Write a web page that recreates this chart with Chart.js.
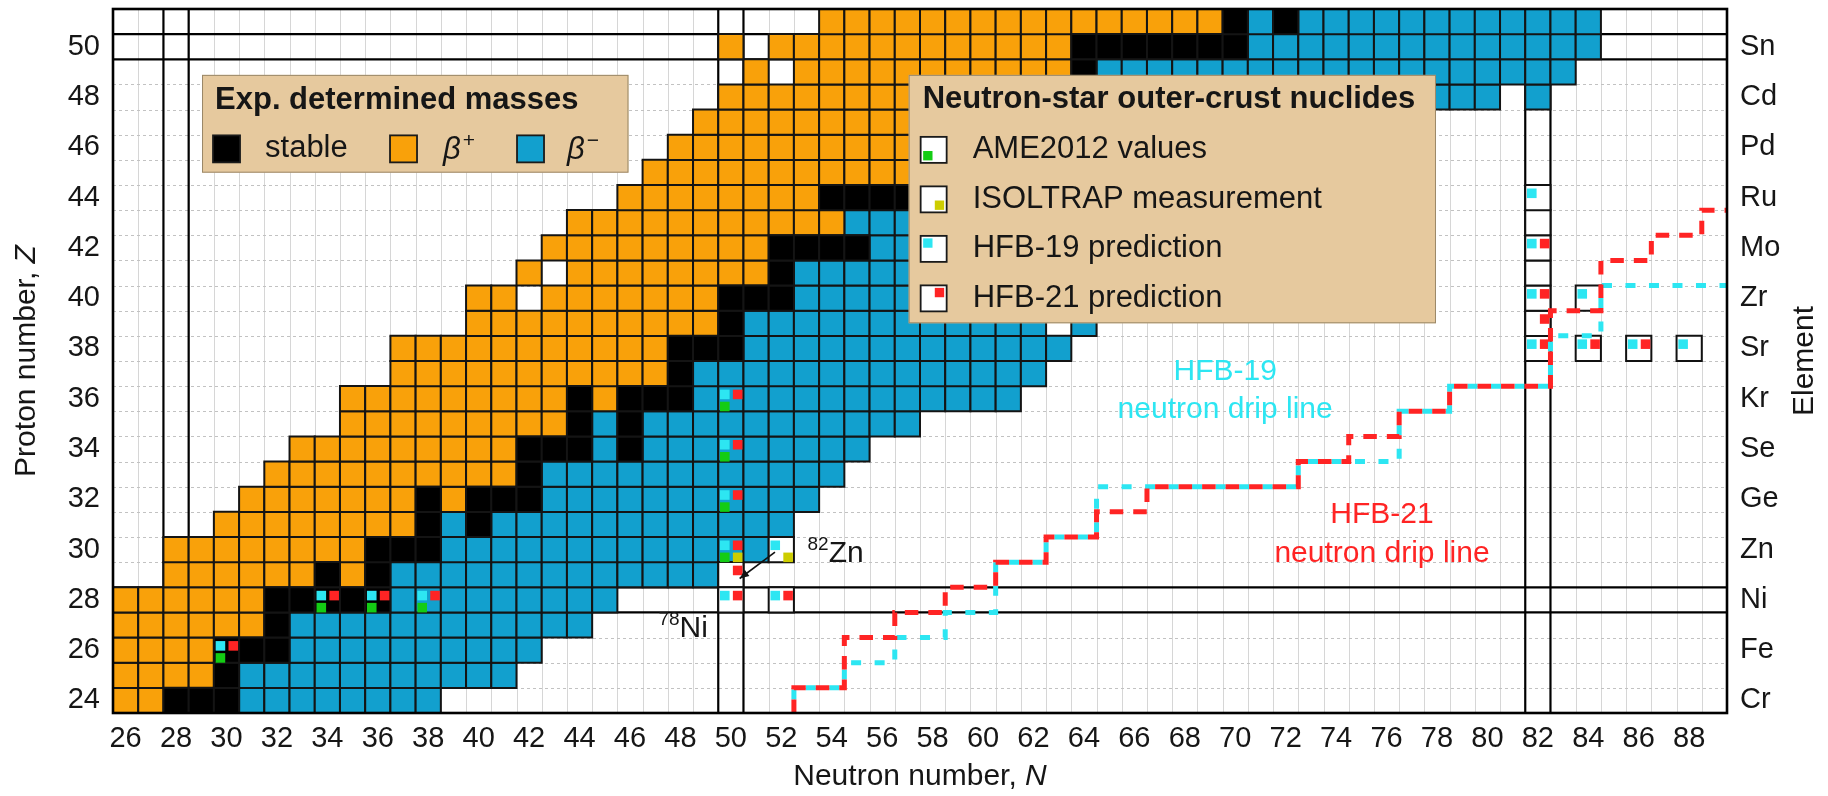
<!DOCTYPE html>
<html>
<head>
<meta charset="utf-8">
<script src="https://cdn.jsdelivr.net/npm/chart.js@4.4.1/dist/chart.umd.min.js"></script>
<style>
  html, body { margin: 0; padding: 0; background: #ffffff; }
  #wrap { width: 1828px; height: 796px; position: relative; }
</style>
</head>
<body>
<div id="wrap"><canvas id="chart"></canvas></div>
<script>
// ---- axis ticks -------------------------------------------------------
const neutronTicks = [26, 28, 30, 32, 34, 36, 38, 40, 42, 44, 46, 48, 50, 52, 54, 56, 58, 60,
                      62, 64, 66, 68, 70, 72, 74, 76, 78, 80, 82, 84, 86, 88];
const protonTicks = [24, 26, 28, 30, 32, 34, 36, 38, 40, 42, 44, 46, 48, 50];
const elementSymbols = ['Cr', 'Fe', 'Ni', 'Zn', 'Ge', 'Se', 'Kr', 'Sr', 'Zr', 'Mo', 'Ru', 'Pd', 'Cd', 'Sn'];

// ---- nuclides with experimentally determined masses: [Z, first N, last N]
const betaPlusRuns = [
  [24, 26, 27], [25, 26, 29], [26, 26, 29], [27, 26, 31], [28, 26, 31],
  [29, 28, 33], [29, 35, 35], [30, 28, 35], [31, 30, 37], [32, 31, 37], [32, 39, 39],
  [33, 32, 41], [34, 33, 41], [35, 35, 43], [36, 35, 43], [36, 45, 45],
  [37, 37, 47], [38, 37, 47], [39, 40, 49], [40, 40, 41], [40, 43, 49],
  [41, 42, 42], [41, 44, 51], [42, 43, 51], [43, 44, 54], [44, 46, 53],
  [45, 47, 57], [46, 48, 57], [47, 49, 59], [48, 50, 57],
  [49, 51, 51], [49, 53, 63], [50, 50, 50], [50, 52, 63], [51, 54, 69]
];
const stableRuns = [
  [24, 28, 30], [25, 30, 30], [26, 30, 32], [27, 32, 32], [28, 32, 36],
  [29, 34, 34], [29, 36, 36], [30, 36, 38], [31, 38, 38], [31, 40, 40],
  [32, 38, 38], [32, 40, 42], [33, 42, 42], [34, 42, 44], [34, 46, 46],
  [35, 44, 44], [35, 46, 46], [36, 44, 44], [36, 46, 48], [37, 48, 48],
  [38, 48, 50], [39, 50, 50], [40, 50, 52], [41, 52, 52], [42, 52, 55],
  [44, 54, 60], [45, 58, 58], [46, 58, 64], [47, 60, 62], [48, 58, 64],
  [49, 64, 64], [50, 64, 70], [51, 70, 70], [51, 72, 72]
];
const betaMinusRuns = [
  [24, 31, 38], [25, 31, 41], [26, 33, 42], [27, 33, 44], [28, 37, 45],
  [29, 37, 49], [30, 39, 51], [31, 39, 39], [31, 41, 52], [32, 43, 53],
  [33, 43, 54], [34, 45, 45], [34, 47, 55], [35, 45, 45], [35, 47, 57],
  [36, 49, 61], [37, 49, 62], [38, 51, 63], [39, 51, 62], [39, 64, 64],
  [40, 53, 66], [41, 53, 67], [42, 56, 69], [43, 55, 70], [44, 61, 73],
  [45, 59, 74], [46, 65, 75], [47, 63, 76], [48, 65, 80], [48, 82, 82],
  [49, 65, 83], [50, 71, 84], [51, 71, 71], [51, 73, 84]
];

// ---- neutron-star outer-crust nuclides: [N, Z] ----------------------------
const crustOpenCells = [
  [50, 29], [50, 28], [52, 30], [52, 28],
  [82, 38], [82, 39], [82, 40], [82, 41], [82, 42], [82, 43], [82, 44],
  [84, 38], [84, 40], [86, 38], [88, 38]
];
const ame2012Nuclides = [[30, 26], [34, 28], [36, 28], [38, 28], [50, 30], [50, 32], [50, 34], [50, 36]];
const isoltrapNuclides = [[50, 30], [52, 30]];
const hfb19Nuclides = [
  [30, 26], [34, 28], [36, 28], [38, 28], [50, 36], [50, 34], [50, 32], [50, 30],
  [50, 28], [52, 30], [52, 28], [82, 44], [82, 42], [82, 40], [82, 38],
  [84, 40], [84, 38], [86, 38], [88, 38]
];
const hfb21Nuclides = [
  [30, 26], [34, 28], [36, 28], [38, 28], [50, 36], [50, 34], [50, 32], [50, 30],
  [50, 29], [50, 28], [52, 28], [82, 42], [82, 40], [82, 39], [82, 38],
  [84, 38], [86, 38]
];

// ---- neutron drip lines: last bound N for Z = 24, 25, ... ------------------
const dripFirstZ = 24;
const hfb19LastBoundN = [52, 54, 56, 58, 60, 60, 62, 64, 64, 72, 76, 76, 78, 82, 82, 84, 84];
const hfb21LastBoundN = [52, 54, 54, 56, 58, 60, 62, 64, 66, 72, 74, 76, 78, 82, 82, 82, 84, 84, 86, 88];

// ---- magic numbers ------------------------------------------------------
const magicN = [28, 50, 82];
const magicZ = [28, 50];

// ---- axis ranges --------------------------------------------------------
const N_MIN = 25.5, N_MAX = 89.5, Z_MIN = 23.5, Z_MAX = 51.5;

// ---- styling ------------------------------------------------------------
const FONT = "'Liberation Sans', Arial, Helvetica, sans-serif";
const TEXT = '#161616';
const ORANGE = '#F9A10A';
const BLUE = '#12A0CE';
const CYAN = '#2DE6F2';
const RED = '#FF2424';
const GREEN = '#14CC14';
const YELLOW = '#CDCD00';
const LEGEND_BG = '#E6C99E';

function expandRuns(runs) {
  const pts = [];
  runs.forEach(([z, a, b]) => { for (let n = a; n <= b; n++) pts.push({ x: n, y: z }); });
  return pts;
}
function dripPath(lastBound) {
  const pts = [];
  lastBound.forEach((n, i) => {
    const z = dripFirstZ + i;
    pts.push({ x: n + 0.5, y: z - 0.5 }, { x: n + 0.5, y: z + 0.5 });
  });
  pts.push({ x: N_MAX, y: dripFirstZ + lastBound.length - 0.5 });
  return pts;
}
const cellPx = chart => Math.abs(chart.scales.x.getPixelForValue(1) - chart.scales.x.getPixelForValue(0));

function cellSet(points, fill, border) {
  return {
    data: points, order: 4,
    pointStyle: 'rect', pointBackgroundColor: fill, pointBorderColor: border || '#141414',
    pointBorderWidth: 2, pointRadius: c => cellPx(c.chart) / Math.SQRT2
  };
}
// marker squares sit in a corner of their nuclide's cell
function markerSet(list, color, dx, dy) {
  return {
    data: list.map(([n, z]) => ({ x: n + dx, y: z + dy })), order: 2,
    pointStyle: 'rect', pointBackgroundColor: color, pointBorderWidth: 0,
    pointRadius: c => 0.38 * cellPx(c.chart) / Math.SQRT2
  };
}
function dripSet(lastBound, color, dash, offset) {
  return {
    data: dripPath(lastBound), order: 1, showLine: true, fill: false,
    borderColor: color, borderWidth: 5, borderDash: dash, borderDashOffset: offset,
    pointRadius: 0, tension: 0
  };
}

// ---- overlay drawing ----------------------------------------------------
function hline(ctx, x0, x1, y) { ctx.beginPath(); ctx.moveTo(x0, y); ctx.lineTo(x1, y); ctx.stroke(); }
function vline(ctx, x, y0, y1) { ctx.beginPath(); ctx.moveTo(x, y0); ctx.lineTo(x, y1); ctx.stroke(); }

function richText(ctx, segs, cx, cy, rot, align) {
  ctx.save();
  ctx.translate(cx, cy);
  ctx.rotate(rot || 0);
  let total = 0;
  segs.forEach(s => { ctx.font = s.font; total += ctx.measureText(s.text).width + (s.gap || 0); });
  let x = align === 'left' ? 0 : -total / 2;
  ctx.textBaseline = 'middle';
  ctx.textAlign = 'left';
  segs.forEach(s => {
    ctx.font = s.font;
    ctx.fillStyle = s.color || TEXT;
    x += (s.gap || 0);
    ctx.fillText(s.text, x, s.dy || 0);
    x += ctx.measureText(s.text).width;
  });
  ctx.restore();
}

function legendBox(ctx, x0, y0, x1, y1) {
  ctx.fillStyle = LEGEND_BG;
  ctx.fillRect(x0, y0, x1 - x0, y1 - y0);
  ctx.strokeStyle = '#9a8868';
  ctx.lineWidth = 1;
  ctx.strokeRect(x0 + 0.5, y0 + 0.5, x1 - x0 - 1, y1 - y0 - 1);
}
function swatch(ctx, x, yc, size, fill) {
  ctx.fillStyle = fill;
  ctx.fillRect(x, yc - size / 2, size, size);
  ctx.strokeStyle = '#1a1a1a';
  ctx.lineWidth = 1.8;
  ctx.strokeRect(x, yc - size / 2, size, size);
}
function markerIcon(ctx, x, yc, size, color, corner) {
  swatch(ctx, x, yc, size, '#ffffff');
  const m = size * 0.36, inset = 2.5;
  const mx = corner.includes('l') ? x + inset : x + size - inset - m;
  const my = corner.includes('t') ? yc - size / 2 + inset : yc + size / 2 - inset - m;
  ctx.fillStyle = color;
  ctx.fillRect(mx, my, m, m);
}

// legend boxes, in (N, Z) units
const expLegendBox = { n0: 29.03, n1: 45.94, z0: 48.88, z1: 44.99 };
const crustLegendBox = { n0: 57.05, n1: 77.96, z0: 48.88, z1: 39.0 };

const overlays = {
  id: 'overlays',
  beforeDatasetsDraw(chart) {
    const { ctx, chartArea: a, scales: { x, y } } = chart;
    ctx.save();
    ctx.beginPath();
    ctx.rect(a.left, a.top, a.right - a.left, a.bottom - a.top);
    ctx.clip();
    // cell grid
    ctx.lineWidth = 1;
    ctx.strokeStyle = '#d6d6d6';
    for (let n = N_MIN + 1; n < N_MAX; n++) vline(ctx, Math.round(x.getPixelForValue(n)) + 0.5, a.top, a.bottom);
    ctx.strokeStyle = '#c2c2c2';
    ctx.setLineDash([3, 3]);
    for (let z = Z_MIN + 1; z < Z_MAX; z++) hline(ctx, a.left, a.right, Math.round(y.getPixelForValue(z)) + 0.5);
    ctx.setLineDash([]);
    // magic-number lines
    ctx.strokeStyle = '#000000';
    ctx.lineWidth = 2.2;
    magicN.forEach(m => [m - 0.5, m + 0.5].forEach(v => vline(ctx, x.getPixelForValue(v), a.top, a.bottom)));
    magicZ.forEach(m => [m - 0.5, m + 0.5].forEach(v => hline(ctx, a.left, a.right, y.getPixelForValue(v))));
    ctx.restore();
  },
  afterDatasetsDraw(chart) {
    const { ctx, chartArea: a, scales: { x, y } } = chart;
    const px = n => x.getPixelForValue(n), py = z => y.getPixelForValue(z);
    ctx.save();
    // plot frame
    ctx.strokeStyle = '#000000';
    ctx.lineWidth = 2.6;
    ctx.strokeRect(a.left, a.top, a.right - a.left, a.bottom - a.top);

    // drip-line captions
    const f30 = '30px ' + FONT;
    richText(ctx, [{ text: 'HFB-19', font: f30, color: CYAN }], px(69.6), py(37.08));
    richText(ctx, [{ text: 'neutron drip line', font: f30, color: CYAN }], px(69.6), py(35.55));
    richText(ctx, [{ text: 'HFB-21', font: f30, color: RED }], px(75.82), py(31.38));
    richText(ctx, [{ text: 'neutron drip line', font: f30, color: RED }], px(75.82), py(29.85));

    // nuclide captions
    richText(ctx, [{ text: '82', font: '19px ' + FONT, dy: -9 }, { text: 'Zn', font: f30 }], px(53.04), py(29.85), 0, 'left');
    richText(ctx, [{ text: '78', font: '19px ' + FONT, dy: -9 }, { text: 'Ni', font: f30 }], px(47.13), py(26.85), 0, 'left');

    // arrow towards 78Ni
    const ax0 = px(51.75), ay0 = py(29.9), ax1 = px(50.35), ay1 = py(28.85);
    ctx.strokeStyle = '#111111';
    ctx.fillStyle = '#111111';
    ctx.lineWidth = 1.6;
    ctx.beginPath(); ctx.moveTo(ax0, ay0); ctx.lineTo(ax1, ay1); ctx.stroke();
    const ang = Math.atan2(ay1 - ay0, ax1 - ax0), hl = 10;
    ctx.beginPath();
    ctx.moveTo(ax1, ay1);
    ctx.lineTo(ax1 - hl * Math.cos(ang - 0.4), ay1 - hl * Math.sin(ang - 0.4));
    ctx.lineTo(ax1 - hl * Math.cos(ang + 0.4), ay1 - hl * Math.sin(ang + 0.4));
    ctx.closePath(); ctx.fill();

    // legend: experimentally determined masses
    const f31 = '31px ' + FONT, b31 = 'bold 31px ' + FONT;
    let x0 = px(expLegendBox.n0), y0 = py(expLegendBox.z0);
    legendBox(ctx, x0, y0, px(expLegendBox.n1), py(expLegendBox.z1));
    richText(ctx, [{ text: 'Exp. determined masses', font: b31 }], x0 + 13, y0 + 26, 0, 'left');
    const ry = y0 + 74;
    swatch(ctx, x0 + 11, ry, 27, '#000000');
    richText(ctx, [{ text: 'stable', font: f31 }], x0 + 63, ry, 0, 'left');
    swatch(ctx, x0 + 188, ry, 27, ORANGE);
    richText(ctx, [{ text: 'β', font: 'italic 31px ' + FONT }, { text: '+', font: '21px ' + FONT, dy: -10, gap: 2 }], x0 + 241, ry + 2, 0, 'left');
    swatch(ctx, x0 + 315, ry, 27, BLUE);
    richText(ctx, [{ text: 'β', font: 'italic 31px ' + FONT }, { text: '−', font: '21px ' + FONT, dy: -10, gap: 2 }], x0 + 365, ry + 2, 0, 'left');

    // legend: outer-crust nuclides
    x0 = px(crustLegendBox.n0); y0 = py(crustLegendBox.z0);
    legendBox(ctx, x0, y0, px(crustLegendBox.n1), py(crustLegendBox.z1));
    richText(ctx, [{ text: 'Neutron-star outer-crust nuclides', font: b31 }], x0 + 14, y0 + 25, 0, 'left');
    const rows = [
      ['AME2012 values', GREEN, 'bl'],
      ['ISOLTRAP measurement', YELLOW, 'br'],
      ['HFB-19 prediction', CYAN, 'tl'],
      ['HFB-21 prediction', RED, 'tr']
    ];
    rows.forEach(([label, color, corner], i) => {
      const yc = y0 + 75 + i * 49.5;
      markerIcon(ctx, x0 + 12, yc, 26, color, corner);
      richText(ctx, [{ text: label, font: f31 }], x0 + 64, yc, 0, 'left');
    });
    ctx.restore();
  },
  afterDraw(chart) {
    const { ctx, chartArea: a } = chart;
    const f = '30px ' + FONT, fi = 'italic 30px ' + FONT;
    const cy = (a.top + a.bottom) / 2;
    richText(ctx, [{ text: 'Proton number, ', font: f }, { text: 'Z', font: fi }], a.left - 86, cy, -Math.PI / 2);
    richText(ctx, [{ text: 'Neutron number, ', font: f }, { text: 'N', font: fi }], (a.left + a.right) / 2, a.bottom + 64, 0);
    richText(ctx, [{ text: 'Element', font: f }], a.right + 78, cy, -Math.PI / 2);
  }
};

const tickFont = { family: FONT, size: 29 };
// fixed axis bands; tick-label overhang must not shrink the plot area
const fixWidth = w => s => { s.width = w; s.paddingTop = 0; s.paddingBottom = 0; };
const fixHeight = h => s => { s.height = h; s.paddingLeft = 0; s.paddingRight = 0; };

new Chart(document.getElementById('chart'), {
  type: 'scatter',
  data: {
    datasets: [
      dripSet(hfb21LastBoundN, RED, [13.5, 10], 0),
      dripSet(hfb19LastBoundN, CYAN, [10, 13.5], 10),
      markerSet(hfb19Nuclides, CYAN, -0.24, 0.17),
      markerSet(hfb21Nuclides, RED, 0.27, 0.17),
      markerSet(ame2012Nuclides, GREEN, -0.24, -0.31),
      markerSet(isoltrapNuclides, YELLOW, 0.27, -0.31),
      Object.assign(cellSet(crustOpenCells.map(([n, z]) => ({ x: n, y: z })), '#ffffff', '#111111'), { order: 3 }),
      cellSet(expandRuns(stableRuns), '#000000'),
      cellSet(expandRuns(betaPlusRuns), ORANGE),
      cellSet(expandRuns(betaMinusRuns), BLUE)
    ]
  },
  options: {
    responsive: true,
    maintainAspectRatio: false,
    devicePixelRatio: 1,
    animation: false,
    events: [],
    layout: { padding: { top: 9, left: 0, right: 0, bottom: 0 } },
    plugins: { legend: { display: false }, tooltip: { enabled: false } },
    scales: {
      x: {
        type: 'linear', position: 'bottom', min: N_MIN, max: N_MAX, bounds: 'data',
        afterBuildTicks: s => { s.ticks = neutronTicks.map(v => ({ value: v })); },
        afterFit: fixHeight(83),
        grid: { display: false, drawTicks: false },
        border: { display: false },
        ticks: { autoSkip: false, maxRotation: 0, padding: 9, color: TEXT, font: tickFont }
      },
      y: {
        type: 'linear', position: 'left', min: Z_MIN, max: Z_MAX, bounds: 'data',
        afterBuildTicks: s => { s.ticks = protonTicks.map(v => ({ value: v })); },
        afterFit: fixWidth(113),
        grid: { display: false, drawTicks: false },
        border: { display: false },
        ticks: { autoSkip: false, padding: 13, color: TEXT, font: tickFont }
      },
      element: {
        type: 'linear', position: 'right', min: Z_MIN, max: Z_MAX, bounds: 'data',
        afterBuildTicks: s => { s.ticks = protonTicks.map(v => ({ value: v })); },
        afterFit: fixWidth(101),
        grid: { display: false, drawTicks: false },
        border: { display: false },
        ticks: { autoSkip: false, padding: 13, color: TEXT, font: tickFont,
                 callback: (v, i) => elementSymbols[i] }
      }
    }
  },
  plugins: [overlays]
});
</script>
</body>
</html>
